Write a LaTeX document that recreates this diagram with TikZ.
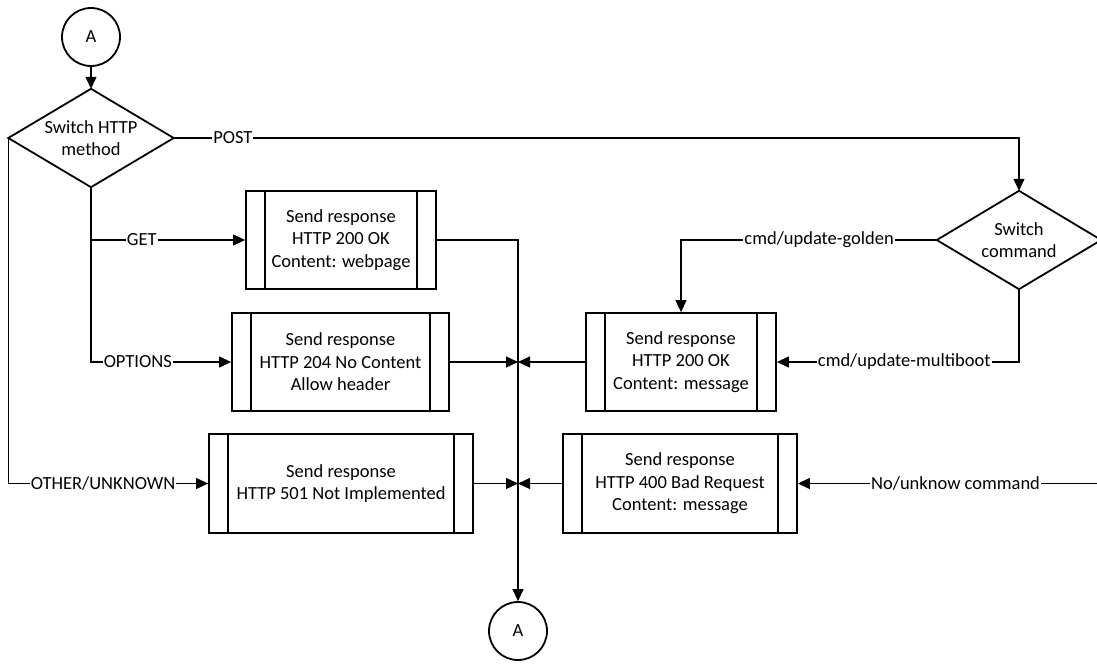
\documentclass[tikz,border=0pt]{standalone}
\usepackage{fontspec}
\setmainfont{Carlito}
\usetikzlibrary{arrows.meta}
\begin{document}
\begin{tikzpicture}[x=1pt,y=-1pt,
  every node/.style={font=\fontsize{18.5}{22.6}\selectfont},
  shapeline/.style={line width=1.8pt},
  conn/.style={line width=1.2pt},
  arr/.style={conn,-{Triangle[length=12pt,width=11pt]}},
  lbl/.style={fill=white,inner sep=1pt},
  decision/.style={minimum width=165pt,minimum height=98pt,inner sep=0pt,align=center},
  process/.style={draw,shapeline,minimum height=98pt,inner sep=0pt,align=center},
  connector/.style={draw,shapeline,circle,minimum size=58pt,inner sep=0pt}]
\useasboundingbox (0,0) rectangle (1097,664);
\clip (0,0) rectangle (1097,664);

% off-page connectors
\node[connector] (a1) at (91,37) {A};
\node[connector] (a2) at (518,631) {A};

% decisions (outline drawn below from the node anchors)
\node[decision] (sw1) at (91,138) {Switch HTTP\\method};
\node[decision,minimum width=164pt] (sw2) at (1019,240) {Switch\\command};
\foreach \n in {sw1,sw2}
  \draw[shapeline,line join=miter] (\n.north) -- (\n.east) -- (\n.south) -- (\n.west) -- cycle;

% predefined-process boxes
\node[process,minimum width=190pt] (get) at (341,240) {Send response\\HTTP 200 OK\\Content: webpage};
\node[process,minimum width=217pt] (opt) at (340.5,362) {Send response\\HTTP 204 No Content\\Allow header};
\node[process,minimum width=264pt,minimum height=99pt] (oth) at (341,483.5) {Send response\\HTTP 501 Not Implemented};
\node[process,minimum width=190pt] (msg) at (681,362) {Send response\\HTTP 200 OK\\Content: message};
\node[process,minimum width=234pt,minimum height=99pt] (bad) at (680,483.5) {Send response\\HTTP 400 Bad Request\\Content: message};
\foreach \b in {get,opt,oth,msg,bad} {
  \draw[shapeline] ([xshift=20pt]\b.north west) -- ([xshift=20pt]\b.south west);
  \draw[shapeline] ([xshift=-20pt]\b.north east) -- ([xshift=-20pt]\b.south east);
}

% method branches
\draw[arr] (a1) -- (sw1.north);
\draw[arr] (sw1.east) -- node[lbl,pos=0.07]{POST} (sw1.east -| sw2.north) -- (sw2.north);
\draw[arr] (sw1.south) |- node[lbl,pos=0.665]{GET} (get.west);
\draw[arr] (sw1.south) |- node[lbl,pos=0.667]{OPTIONS} (opt.west);
\draw[arr] (sw1.west) |- node[lbl,pos=0.737]{OTHER/UNKNOWN} (oth.west);

% command branches
\draw[arr] (sw2.west) -| node[lbl,pos=0.23]{cmd/update-golden} (msg.north);
\draw[arr] (sw2.south) |- node[lbl,pos=0.737]{cmd/update-multiboot} (msg.east);
\draw[arr] (sw2.east) -- ++(12,0) |- node[lbl,pos=0.75]{No/unknow command} (bad.east);

% merge into the return connector
\draw[arr] (get.east) -| (a2.north);
\draw[arr] (opt.east) -- (a2.north |- opt.east);
\draw[arr] (msg.west) -- (a2.north |- msg.west);
\draw[arr] (oth.east) -- (a2.north |- oth.east);
\draw[arr] (bad.west) -- (a2.north |- bad.west);
\end{tikzpicture}
\end{document}
